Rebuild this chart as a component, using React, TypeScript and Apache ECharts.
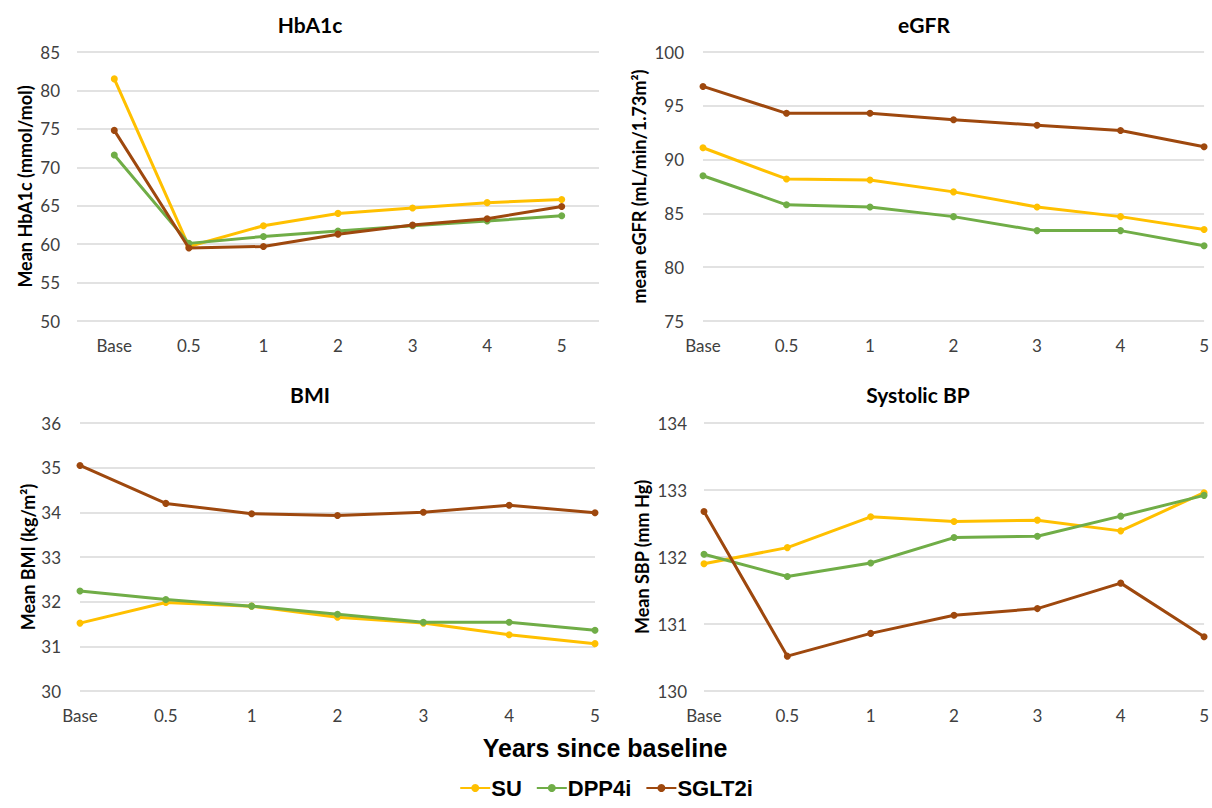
import React, { useEffect, useRef } from "react";
import * as echarts from "echarts";

// Follow-up time points (years since baseline)
const timePoints = ["Base", "0.5", "1", "2", "3", "4", "5"];

const seriesNames = ["SU", "DPP4i", "SGLT2i"];
const seriesColors = ["#FFC000", "#70AD47", "#9E480E"];

// HbA1c (mmol/mol)
const hba1cSU = [81.5, 59.7, 62.4, 64.0, 64.7, 65.4, 65.8];
const hba1cDPP4i = [71.6, 60.1, 61.0, 61.7, 62.4, 63.0, 63.7];
const hba1cSGLT2i = [74.8, 59.5, 59.7, 61.3, 62.5, 63.3, 64.9];

// eGFR (mL/min/1.73m²)
const egfrSU = [91.1, 88.2, 88.1, 87.0, 85.6, 84.7, 83.5];
const egfrDPP4i = [88.5, 85.8, 85.6, 84.7, 83.4, 83.4, 82.0];
const egfrSGLT2i = [96.8, 94.3, 94.3, 93.7, 93.2, 92.7, 91.2];

// BMI (kg/m²)
const bmiSU = [31.52, 31.98, 31.9, 31.65, 31.52, 31.26, 31.06];
const bmiDPP4i = [32.24, 32.05, 31.9, 31.72, 31.54, 31.54, 31.36];
const bmiSGLT2i = [35.05, 34.2, 33.97, 33.93, 34.0, 34.16, 33.99];

// Systolic BP (mm Hg)
const sbpSU = [131.9, 132.14, 132.6, 132.53, 132.55, 132.39, 132.96];
const sbpDPP4i = [132.04, 131.71, 131.91, 132.29, 132.31, 132.61, 132.92];
const sbpSGLT2i = [132.68, 130.52, 130.86, 131.13, 131.23, 131.61, 130.81];

const panelTitles = ["HbA1c", "eGFR", "BMI", "Systolic BP"];
const yAxisNames = [
  "Mean HbA1c (mmol/mol)",
  "mean eGFR (mL/min/1.73m²)",
  "Mean BMI (kg/m²)",
  "Mean SBP (mm Hg)",
];
const yRanges = [
  { min: 50, max: 85, interval: 5 },
  { min: 75, max: 100, interval: 5 },
  { min: 30, max: 36, interval: 1 },
  { min: 130, max: 134, interval: 1 },
];
const panelData = [
  [hba1cSU, hba1cDPP4i, hba1cSGLT2i],
  [egfrSU, egfrDPP4i, egfrSGLT2i],
  [bmiSU, bmiDPP4i, bmiSGLT2i],
  [sbpSU, sbpDPP4i, sbpSGLT2i],
];

const FONT = "Lato, 'Noto Sans', sans-serif";
const ARIAL = "'Liberation Sans', Arial, sans-serif";

export default function App() {
  const ref = useRef<HTMLDivElement>(null);

  useEffect(() => {
    document.body.style.margin = "0";
    if (!ref.current) return;
    const chart = echarts.init(ref.current, undefined, { renderer: "svg" });

    const grids = [
      { left: 77, top: 52, width: 522, height: 269 },
      { left: 703, top: 52, width: 503, height: 269 },
      { left: 80, top: 423, width: 515, height: 268 },
      { left: 704, top: 423, width: 504, height: 268 },
    ];
    const boundaryGaps = [true, false, false, false];
    const nameGaps = [43, 55, 42, 53];
    const labelMargins = [17, 19, 19, 17];
    const titlePos = [
      { x: 305, y: 9 },
      { x: 919, y: 9 },
      { x: 305, y: 379 },
      { x: 913, y: 379 },
    ];

    const series: any[] = [];
    panelData.forEach((group, gi) => {
      group.forEach((values, si) => {
        series.push({
          type: "line",
          name: seriesNames[si],
          xAxisIndex: gi,
          yAxisIndex: gi,
          data: values,
          symbol: "circle",
          symbolSize: 7,
          lineStyle: { width: 3, color: seriesColors[si] },
          itemStyle: { color: seriesColors[si] },
          z: 2 + si,
        });
      });
    });

    chart.setOption({
      animation: false,
      backgroundColor: "#ffffff",
      title: panelTitles.map((t, i) => ({
        text: t,
        left: titlePos[i].x,
        top: titlePos[i].y,
        textAlign: "center",
        textStyle: { fontFamily: FONT, fontSize: 21, fontWeight: "bold", color: "#000" },
      })),
      grid: grids,
      xAxis: grids.map((_, i) => ({
        type: "category",
        gridIndex: i,
        data: timePoints,
        boundaryGap: boundaryGaps[i],
        axisLine: { show: false },
        axisTick: { show: false },
        axisLabel: {
          fontFamily: FONT,
          fontSize: 17,
          color: "#404040",
          margin: 16,
          interval: 0,
        },
      })),
      yAxis: grids.map((_, i) => ({
        type: "value",
        gridIndex: i,
        min: yRanges[i].min,
        max: yRanges[i].max,
        interval: yRanges[i].interval,
        name: yAxisNames[i],
        nameLocation: "middle",
        nameGap: nameGaps[i],
        nameTextStyle: { fontFamily: FONT, fontSize: 18, fontWeight: "bold", color: "#000" },
        axisLine: { show: false },
        axisTick: { show: false },
        axisLabel: { fontFamily: FONT, fontSize: 17, color: "#404040", margin: labelMargins[i] },
        splitLine: { lineStyle: { color: "#D9D9D9", width: 1.5 } },
      })),
      legend: {
        data: seriesNames,
        left: "center",
        top: 772,
        itemWidth: 30,
        itemHeight: 10,
        itemGap: 14,
        textStyle: {
          fontFamily: ARIAL,
          fontSize: 22,
          fontWeight: "bold",
          color: "#000",
          padding: [0, 0, 0, -4],
        },
      },
      graphic: [
        {
          type: "text",
          x: 605,
          y: 748,
          style: {
            text: "Years since baseline",
            fontFamily: ARIAL,
            fontSize: 25,
            fontWeight: "bold",
            fill: "#000",
            align: "center",
            verticalAlign: "middle",
          },
        },
      ],
      series,
    });

    return () => chart.dispose();
  }, []);

  return <div ref={ref} style={{ width: 1212, height: 808 }} />;
}
